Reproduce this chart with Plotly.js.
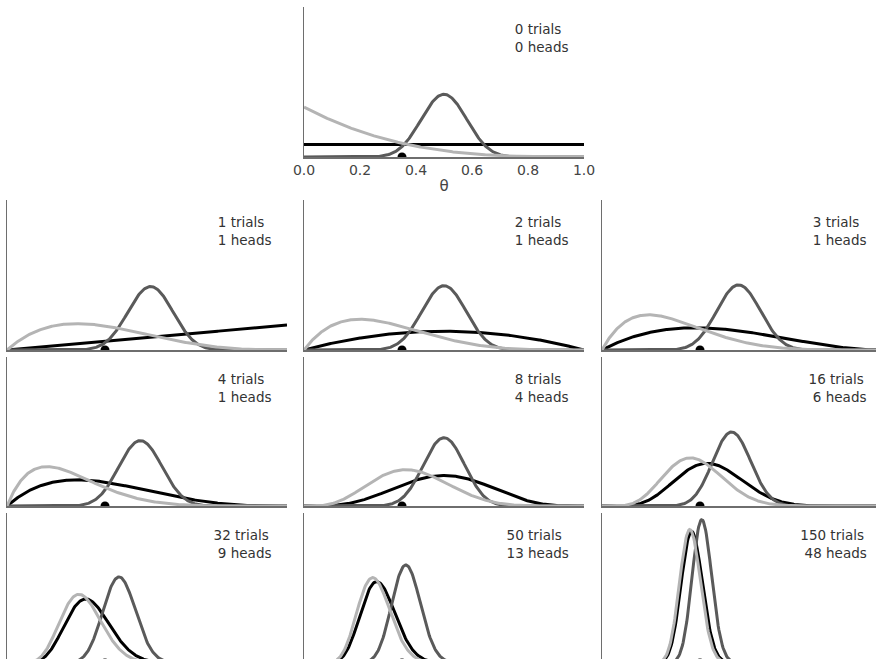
<!DOCTYPE html>
<html><head><meta charset="utf-8">
<script src="https://cdn.plot.ly/plotly-3.0.1.min.js"></script>
<style>html,body{margin:0;padding:0;overflow:hidden;background:#fff}#chart{width:884px;height:665px}</style>
</head><body><div id="chart"></div><script>
// values
const nTrials = [0, 1, 2, 3, 4, 8, 16, 32, 50, 150];
const nHeads  = [0, 1, 1, 1, 1, 4, 6, 9, 13, 48];
const thetaReal = 0.35;
const priorA = [1, 20, 1];
const priorB = [1, 20, 4];
const xTickVals = [0, 0.2, 0.4, 0.6, 0.8, 1.0];
const xTickText = ['0.0', '0.2', '0.4', '0.6', '0.8', '1.0'];
const yMax = 12;

// styles
const priorColors = ['#000000', '#5a5a5a', '#b4b4b4'];
const W = 884, H = 665;
const cols = [[7, 287], [304, 584], [602, 882]];
const rows = [[7, 157], [200, 350], [357, 506], [513, 663]];

function lgamma(z) {
  const g = 7, c = [0.99999999999980993, 676.5203681218851, -1259.1392167224028,
    771.32342877765313, -176.61502916214059, 12.507343278686905,
    -0.13857109526572012, 9.9843695780195716e-6, 1.5056327351493116e-7];
  if (z < 0.5) return Math.log(Math.PI / Math.sin(Math.PI * z)) - lgamma(1 - z);
  z -= 1;
  let x = c[0];
  for (let i = 1; i < g + 2; i++) x += c[i] / (z + i);
  const t = z + g + 0.5;
  return 0.5 * Math.log(2 * Math.PI) + (z + 0.5) * Math.log(t) - t + Math.log(x);
}
function betaPdf(x, a, b) {
  const lb = lgamma(a) + lgamma(b) - lgamma(a + b);
  let s = -lb;
  if (a !== 1) { if (x <= 0) return 0; s += (a - 1) * Math.log(x); }
  if (b !== 1) { if (x >= 1) return 0; s += (b - 1) * Math.log(1 - x); }
  return Math.exp(s);
}
const NPTS = 401;
const grid = Array.from({length: NPTS}, (_, i) => i / (NPTS - 1));

function pad(n) { const s = String(n); return '\u00a0'.repeat(Math.max(0, 4 - s.length)) + s; }

const traces = [], annotations = [], layout = {
  width: W, height: H, margin: {l: 0, r: 0, t: 0, b: 0},
  paper_bgcolor: '#fff', plot_bgcolor: 'rgba(0,0,0,0)', showlegend: false,
  font: {family: 'DejaVu Sans', color: '#333'}
};

nTrials.forEach((N, idx) => {
  const y = nHeads[idx];
  let col, row;
  if (idx === 0) { col = 1; row = 0; } else { col = (idx - 1) % 3; row = 1 + Math.floor((idx - 1) / 3); }
  const [x0, x1] = cols[col], [yt, yb] = rows[row];
  const k = idx + 1;
  const xa = 'x' + (k === 1 ? '' : k), ya = 'y' + (k === 1 ? '' : k);
  const xKey = 'xaxis' + (k === 1 ? '' : k), yKey = 'yaxis' + (k === 1 ? '' : k);
  priorA.forEach((a0, j) => {
    const a = a0 + y, b = priorB[j] + N - y;
    traces.push({type: 'scatter', mode: 'lines', x: grid, y: grid.map(t => betaPdf(t, a, b)),
      xaxis: xa, yaxis: ya, line: {color: priorColors[j], width: 3}, hoverinfo: 'skip'});
  });
  traces.push({type: 'scatter', mode: 'markers', x: [thetaReal], y: [0], xaxis: xa, yaxis: ya,
    marker: {color: '#000', size: 9}, cliponaxis: true, hoverinfo: 'skip'});
  layout[xKey] = {domain: [x0 / W, x1 / W], range: [0, 1], anchor: ya, showgrid: false, zeroline: false,
    showline: true, linecolor: '#6e6e6e', linewidth: 1.5, ticks: '', fixedrange: true,
    showticklabels: idx === 0};
  if (idx === 0) {
    Object.assign(layout[xKey], {tickvals: xTickVals, ticktext: xTickText,
      tickfont: {family: 'DejaVu Sans', size: 14, color: '#444'},
      title: {text: 'θ', font: {family: 'DejaVu Sans', size: 15, color: '#444'}, standoff: 3}});
  }
  layout[yKey] = {domain: [1 - yb / H, 1 - yt / H], range: [0, yMax], anchor: xa, showgrid: false,
    zeroline: false, showline: true, linecolor: '#6e6e6e', linewidth: 1.2, ticks: '',
    showticklabels: false, fixedrange: true};
  annotations.push({xref: 'paper', yref: 'paper', x: (x1 - 13) / W, y: 1 - (yt + 12) / H,
    xanchor: 'right', yanchor: 'top', align: 'left', showarrow: false,
    text: pad(N) + ' trials<br>' + pad(y) + ' heads',
    font: {family: 'DejaVu Sans', size: 13.5, color: '#333'}});
});
layout.annotations = annotations;
Plotly.newPlot('chart', traces, layout, {displayModeBar: false, staticPlot: true});
</script></body></html>
